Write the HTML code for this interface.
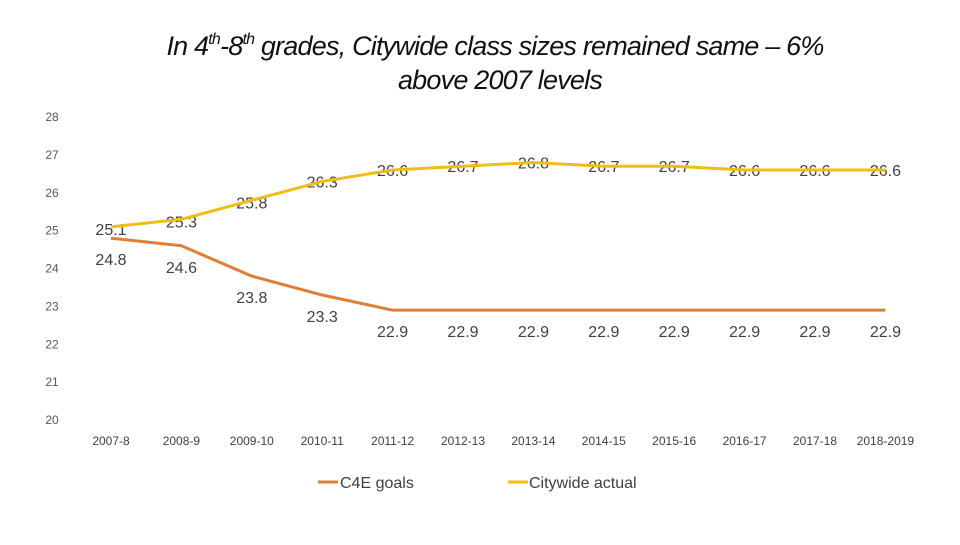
<!DOCTYPE html>
<html><head><meta charset="utf-8"><style>
body{margin:0;background:#fff;}
svg text{font-family:"Liberation Sans",sans-serif;}
</style></head><body>
<svg width="960" height="540" viewBox="0 0 960 540" xmlns="http://www.w3.org/2000/svg">
<text x="495" y="55" text-anchor="middle" font-size="27" font-style="italic" fill="#111" letter-spacing="-0.8">In 4<tspan font-size="16" dy="-11">th</tspan><tspan dy="11">-8</tspan><tspan font-size="16" dy="-11">th</tspan><tspan dy="11"> grades, Citywide class sizes remained same – 6%</tspan></text>
<text x="500" y="89" text-anchor="middle" font-size="27" font-style="italic" fill="#111" letter-spacing="-0.8">above 2007 levels</text>
<g id="yaxis"></g><g id="xaxis"></g><g id="labels"></g><g id="lines"></g>
<g>
<line x1="318" y1="482" x2="338" y2="482" stroke="#DE7F35" stroke-width="3"/>
<text x="340" y="488" font-size="16" fill="#404040">C4E goals</text>
<line x1="508" y1="482" x2="528" y2="482" stroke="#EFBE16" stroke-width="3"/>
<text x="529" y="488" font-size="16" fill="#404040">Citywide actual</text>
</g>
</svg>
<script>
const categories=["2007-8","2008-9","2009-10","2010-11","2011-12","2012-13","2013-14","2014-15","2015-16","2016-17","2017-18","2018-2019"];
const c4eGoals=[24.8,24.6,23.8,23.3,22.9,22.9,22.9,22.9,22.9,22.9,22.9,22.9];
const citywide=[25.1,25.3,25.8,26.3,26.6,26.7,26.8,26.7,26.7,26.6,26.6,26.6];
const yTicks=[20,21,22,23,24,25,26,27,28];
const NS="http://www.w3.org/2000/svg";
function y(v){return 420-(v-20)*(303/8);}
function x(i){return 111+i*70.4;}
function mk(t,a,p,txt){const e=document.createElementNS(NS,t);for(const k in a)e.setAttribute(k,a[k]);if(txt!==undefined)e.textContent=txt;p.appendChild(e);return e;}
const ya=document.getElementById('yaxis'),xa=document.getElementById('xaxis'),ln=document.getElementById('lines'),lb=document.getElementById('labels');
yTicks.forEach(t=>{const e=mk('text',{x:52,y:y(t)+4,'text-anchor':'middle','font-size':12,fill:'#595959'},ya,t);

});
categories.forEach((c,i)=>{const e=mk('text',{x:x(i),y:445,'text-anchor':'middle','font-size':12,fill:'#404040'},xa,c);

});
function series(vals,color,name){const p=mk('polyline',{points:vals.map((v,i)=>x(i)+','+y(v)).join(' '),fill:'none',stroke:color,'stroke-width':3,'stroke-linejoin':'round'},ln);

}
series(c4eGoals,'#DE7F35','c4e-goals-line');
series(citywide,'#EFBE16','citywide-actual-line');
function label(v,i,dy,name){const t=String(v.toFixed(1));const cx=x(i),cy=y(v)+dy;
const e=mk('text',{x:cx,y:cy+6,'text-anchor':'middle','font-size':16,fill:'#404040'},lb,t);

}
citywide.forEach((v,i)=>label(v,i,i<3?2:0,'citywide-value-label'));
c4eGoals.forEach((v,i)=>label(v,i,21,'c4e-value-label'));
</script>
</body></html>
